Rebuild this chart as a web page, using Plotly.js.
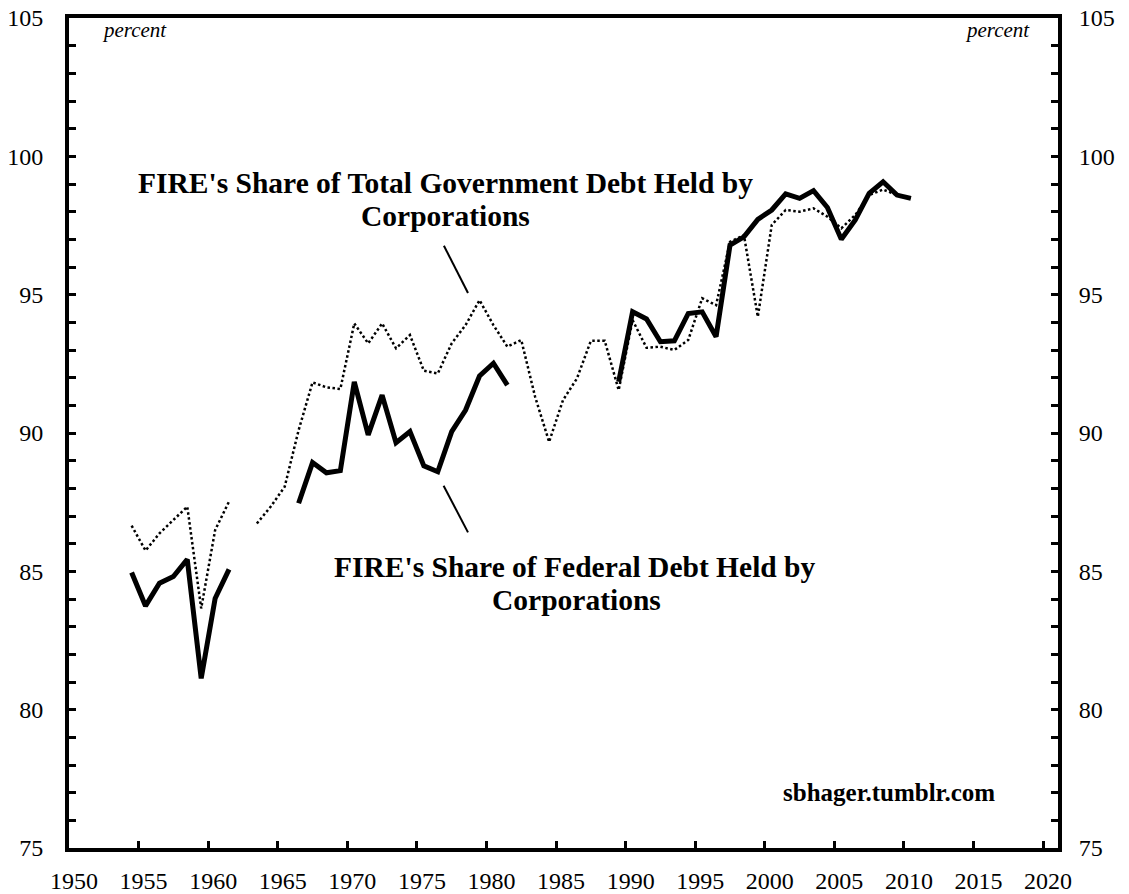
<!DOCTYPE html>
<html>
<head>
<meta charset="utf-8">
<script src="https://cdn.plot.ly/plotly-3.0.1.min.js"></script>
<style>
  html, body { margin: 0; padding: 0; background: #fff; }
  #chart { width: 1129px; height: 894px; }
</style>
</head>
<body>
<div id="chart"></div>
<script>
// ---- Data ----
const years = [1954,1955,1956,1957,1958,1959,1960,1961,1962,1963,1964,1965,1966,1967,1968,1969,
  1970,1971,1972,1973,1974,1975,1976,1977,1978,1979,1980,1981,1982,1983,1984,1985,1986,1987,1988,1989,
  1990,1991,1992,1993,1994,1995,1996,1997,1998,1999,2000,2001,2002,2003,2004,2005,2006,2007,2008,2009,2010];

// FIRE's Share of Federal Debt Held by Corporations (solid)
const federalShare = [84.96,83.75,84.57,84.81,85.43,81.13,84.02,85.07,null,null,null,null,87.46,88.93,88.56,88.64,
  91.85,89.93,91.37,89.65,90.05,88.81,88.60,90.05,90.83,92.06,92.52,91.73,null,null,null,null,null,null,null,91.85,
  94.38,94.12,93.30,93.33,94.32,94.38,93.48,96.79,97.09,97.72,98.06,98.64,98.48,98.76,98.15,97.00,97.70,98.66,99.08,98.60,98.48];

// FIRE's Share of Total Government Debt Held by Corporations (dotted)
const totalGovShare = [86.65,85.75,86.37,86.85,87.34,83.66,86.49,87.52,null,86.73,87.34,88.06,90.10,91.83,91.65,91.59,
  93.96,93.24,93.96,93.06,93.54,92.25,92.15,93.24,93.90,94.80,93.90,93.12,93.36,91.30,89.68,91.19,91.97,93.33,93.33,91.55,
  94.08,93.08,93.12,93.00,93.36,94.87,94.62,96.91,97.15,94.20,97.52,98.06,98.00,98.12,97.82,97.40,97.88,98.60,98.80,98.60,98.50];

const xTickVals = [1950,1955,1960,1965,1970,1975,1980,1985,1990,1995,2000,2005,2010,2015,2020];
const labelTotal = ["FIRE's Share of Total Government Debt Held by", "Corporations"];
const labelFederal = ["FIRE's Share of Federal Debt Held by", "Corporations"];
const unitLabel = "percent";
const credit = "sbhager.tumblr.com";

// annual values plotted at mid-year
const xMid = years.map(y => y + 0.5);

// ---- Layout helpers (pixel -> paper) ----
const PL = 68.7, PR = 1057.7, PT = 18.3, PB = 848.3;
const px = x => (x - PL) / (PR - PL);
const py = y => (PB - y) / (PB - PT);

const FONT = 'Liberation Serif';

const traces = [
  { x: xMid, y: totalGovShare, type: 'scatter', mode: 'lines', connectgaps: false,
    line: { color: '#000', width: 2.5, dash: '2.5px,2.5px' }, hoverinfo: 'x+y' },
  { x: xMid, y: federalShare, type: 'scatter', mode: 'lines', connectgaps: false,
    line: { color: '#000', width: 5, shape: 'linear' }, hoverinfo: 'x+y' },
  { x: [], y: [], yaxis: 'y2', type: 'scatter', mode: 'lines', showlegend: false, hoverinfo: 'skip' }
];

const yCommon = {
  range: [75, 105], tick0: 75, dtick: 5,
  ticks: 'inside', ticklen: 7, tickwidth: 3, tickcolor: '#000',
  minor: { dtick: 1, tick0: 75, ticks: 'inside', ticklen: 7, tickwidth: 3, tickcolor: '#000', showgrid: false },
  showline: true, linewidth: 4, linecolor: '#000',
  showgrid: false, zeroline: false,
  tickfont: { family: FONT, size: 24, color: '#000' },
  fixedrange: true
};

const annFont = { family: FONT, size: 29.5, color: '#000' };

const layout = {
  width: 1129, height: 894,
  margin: { l: PL, r: 1129 - PR, t: PT, b: 894 - PB, pad: 0 },
  paper_bgcolor: '#fff', plot_bgcolor: '#fff',
  showlegend: false,
  font: { family: FONT, color: '#000' },
  xaxis: {
    range: [1950, 2021.07], tickvals: xTickVals, ticktext: xTickVals.map(String),
    ticks: 'inside', ticklen: 7, tickwidth: 3, tickcolor: '#000',
    showline: true, linewidth: 4, linecolor: '#000', mirror: true,
    showgrid: false, zeroline: false,
    tickfont: { family: FONT, size: 24, color: '#000' },
    ticklabelshift: 5, ticklabelstandoff: 8,
    fixedrange: true
  },
  yaxis: Object.assign({}, yCommon, { side: 'left', ticklabelstandoff: 17 }),
  yaxis2: Object.assign({}, yCommon, { side: 'right', overlaying: 'y', ticklabelstandoff: 12 }),
  shapes: [
    { type: 'line', xref: 'paper', yref: 'paper', x0: px(443.6), y0: py(246), x1: px(467.7), y1: py(293.3),
      line: { color: '#000', width: 2 } },
    { type: 'line', xref: 'paper', yref: 'paper', x0: px(443.3), y0: py(486), x1: px(467.7), y1: py(532.7),
      line: { color: '#000', width: 2 } }
  ],
  annotations: [
    { text: '<i>' + unitLabel + '</i>', xref: 'paper', yref: 'paper', x: px(133.7), y: py(30),
      xanchor: 'center', yanchor: 'middle', showarrow: false, font: { family: FONT, size: 21, color: '#000' } },
    { text: '<i>' + unitLabel + '</i>', xref: 'paper', yref: 'paper', x: px(997.5), y: py(30),
      xanchor: 'center', yanchor: 'middle', showarrow: false, font: { family: FONT, size: 21, color: '#000' } },
    { text: '<b>' + labelTotal[0] + '</b>', xref: 'paper', yref: 'paper', x: px(444.7), y: py(183),
      xanchor: 'center', yanchor: 'middle', showarrow: false, font: annFont },
    { text: '<b>' + labelTotal[1] + '</b>', xref: 'paper', yref: 'paper', x: px(444.7), y: py(216),
      xanchor: 'center', yanchor: 'middle', showarrow: false, font: annFont },
    { text: '<b>' + labelFederal[0] + '</b>', xref: 'paper', yref: 'paper', x: px(575), y: py(567),
      xanchor: 'center', yanchor: 'middle', showarrow: false, font: annFont },
    { text: '<b>' + labelFederal[1] + '</b>', xref: 'paper', yref: 'paper', x: px(576), y: py(600),
      xanchor: 'center', yanchor: 'middle', showarrow: false, font: annFont },
    { text: '<b>' + credit + '</b>', xref: 'paper', yref: 'paper', x: px(889), y: py(793),
      xanchor: 'center', yanchor: 'middle', showarrow: false, font: { family: FONT, size: 25, color: '#000' } }
  ]
};

Plotly.newPlot('chart', traces, layout, { staticPlot: true, displayModeBar: false });
</script>
</body>
</html>
